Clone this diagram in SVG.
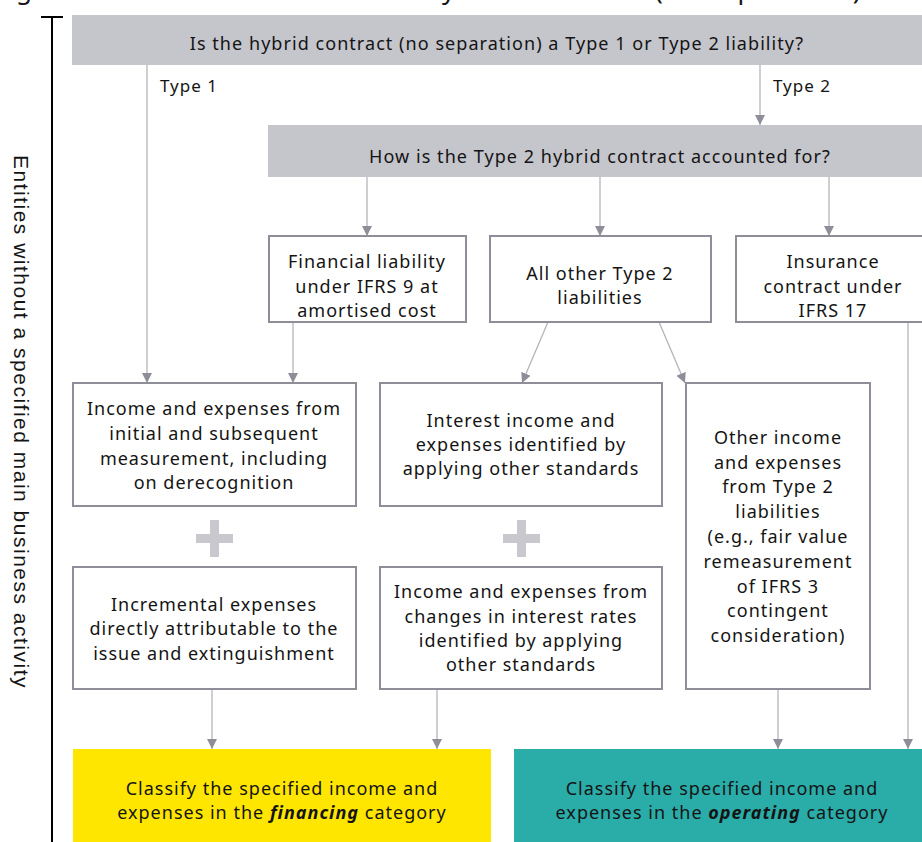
<svg xmlns="http://www.w3.org/2000/svg" width="922" height="842" viewBox="0 0 922 842">
<defs>
<style>
text{font-family:"Noto Sans","DejaVu Sans",sans-serif;fill:#141414;}
.q{font-size:18px;letter-spacing:1.05px;text-anchor:middle;}
.t{font-size:18px;letter-spacing:1px;text-anchor:middle;}
.lbl{font-size:17px;letter-spacing:1px;}
.grey{fill:#c5c5cc;}
.box{fill:#fff;stroke:#8e8e98;stroke-width:2;}
.con{stroke:#b4b4bc;stroke-width:1.3;fill:none;marker-end:url(#ah);}
.plus{fill:#c8c8ce;}
</style>
<marker id="ah" viewBox="0 0 10 10" refX="10" refY="5" markerWidth="10" markerHeight="10" markerUnits="userSpaceOnUse" orient="auto">
<path d="M0,0 L10,5 L0,10 z" fill="#8e8e98"/>
</marker>
</defs>
<rect width="922" height="842" fill="#fff"/>
<text x="862" y="-1" style="font-size:26px;letter-spacing:1.5px;text-anchor:end;">Figure 3.4: The classification of hybrid contracts (no separation)</text>
<g id="side">
<line x1="52" y1="17" x2="52" y2="842" stroke="#000" stroke-width="2"/>
<line x1="41" y1="17" x2="63" y2="17" stroke="#000" stroke-width="2"/>
<text transform="translate(14,422) rotate(90)" style="font-family:'Liberation Sans',Arial,sans-serif;font-size:21px;letter-spacing:1.5px;text-anchor:middle;">Entities without a specified main business activity</text>
</g>
<g id="connectors">
<line class="con" x1="147" y1="65" x2="147" y2="383"/>
<line class="con" x1="760" y1="65" x2="760" y2="125"/>
<line class="con" x1="367" y1="177" x2="367" y2="236"/>
<line class="con" x1="600" y1="177" x2="600" y2="236"/>
<line class="con" x1="829" y1="177" x2="829" y2="236"/>
<line class="con" x1="293" y1="322" x2="293" y2="383"/>
<line class="con" x1="548" y1="322" x2="522" y2="383"/>
<line class="con" x1="659" y1="322" x2="685" y2="383"/>
<line class="con" x1="908" y1="322" x2="908" y2="749"/>
<line class="con" x1="212" y1="689" x2="212" y2="749"/>
<line class="con" x1="437" y1="689" x2="437" y2="749"/>
<line class="con" x1="778" y1="689" x2="778" y2="749"/>
<text class="lbl" x="160" y="92">Type 1</text>
<text class="lbl" x="773" y="92">Type 2</text>
</g>
<g id="q1">
<rect class="grey" x="72" y="15" width="850" height="50"/>
<text class="q" x="497" y="50">Is the hybrid contract (no separation) a Type 1 or Type 2 liability?</text>
</g>
<g id="q2">
<rect class="grey" x="268" y="125" width="654" height="52"/>
<text class="q" x="600" y="163">How is the Type 2 hybrid contract accounted for?</text>
</g>
<g id="finliab">
<rect class="box" x="269" y="236" width="197" height="86"/>
<text class="t" x="367" y="268">Financial liability</text>
<text class="t" x="367" y="293">under IFRS 9 at</text>
<text class="t" x="367" y="317">amortised cost</text>
</g>
<g id="othertype2">
<rect class="box" x="490" y="236" width="221" height="86"/>
<text class="t" x="600" y="280">All other Type 2</text>
<text class="t" x="600" y="304">liabilities</text>
</g>
<g id="insurance">
<rect class="box" x="736" y="236" width="196" height="86"/>
<text class="t" x="833" y="268">Insurance</text>
<text class="t" x="833" y="293">contract under</text>
<text class="t" x="833" y="317">IFRS 17</text>
</g>
<g id="boxA">
<rect class="box" x="73" y="383" width="283" height="123"/>
<text class="t" x="214" y="415">Income and expenses from</text>
<text class="t" x="214" y="440">initial and subsequent</text>
<text class="t" x="214" y="465">measurement, including</text>
<text class="t" x="214" y="489">on derecognition</text>
</g>
<g id="plusA"><rect class="plus" x="196" y="534" width="37" height="9"/><rect class="plus" x="210" y="520" width="9" height="37"/></g>
<g id="boxC">
<rect class="box" x="73" y="567" width="283" height="122"/>
<text class="t" x="214" y="611">Incremental expenses</text>
<text class="t" x="214" y="635">directly attributable to the</text>
<text class="t" x="214" y="660">issue and extinguishment</text>
</g>
<g id="boxB">
<rect class="box" x="380" y="383" width="282" height="123"/>
<text class="t" x="521" y="427">Interest income and</text>
<text class="t" x="521" y="451">expenses identified by</text>
<text class="t" x="521" y="475">applying other standards</text>
</g>
<g id="plusB"><rect class="plus" x="503" y="534" width="37" height="9"/><rect class="plus" x="517" y="520" width="9" height="37"/></g>
<g id="boxD">
<rect class="box" x="380" y="567" width="282" height="122"/>
<text class="t" x="521" y="598">Income and expenses from</text>
<text class="t" x="521" y="623">changes in interest rates</text>
<text class="t" x="521" y="647">identified by applying</text>
<text class="t" x="521" y="671">other standards</text>
</g>
<g id="boxE">
<rect class="box" x="686" y="383" width="184" height="306"/>
<text class="t" x="778" y="444">Other income</text>
<text class="t" x="778" y="469">and expenses</text>
<text class="t" x="778" y="493">from Type 2</text>
<text class="t" x="778" y="518">liabilities</text>
<text class="t" x="778" y="543">(e.g., fair value</text>
<text class="t" x="778" y="568">remeasurement</text>
<text class="t" x="778" y="593">of IFRS 3</text>
<text class="t" x="778" y="617">contingent</text>
<text class="t" x="778" y="642">consideration)</text>
</g>
<g id="financing">
<rect x="73" y="749" width="418" height="100" fill="#ffe600"/>
<text class="t" x="282" y="795">Classify the specified income and</text>
<text class="t" x="282" y="819">expenses in the <tspan font-weight="bold" font-style="italic">financing</tspan> category</text>
</g>
<g id="operating">
<rect x="514" y="749" width="420" height="100" fill="#2aaca9"/>
<text class="t" x="722" y="795">Classify the specified income and</text>
<text class="t" x="722" y="819">expenses in the <tspan font-weight="bold" font-style="italic">operating</tspan> category</text>
</g>
</svg>
